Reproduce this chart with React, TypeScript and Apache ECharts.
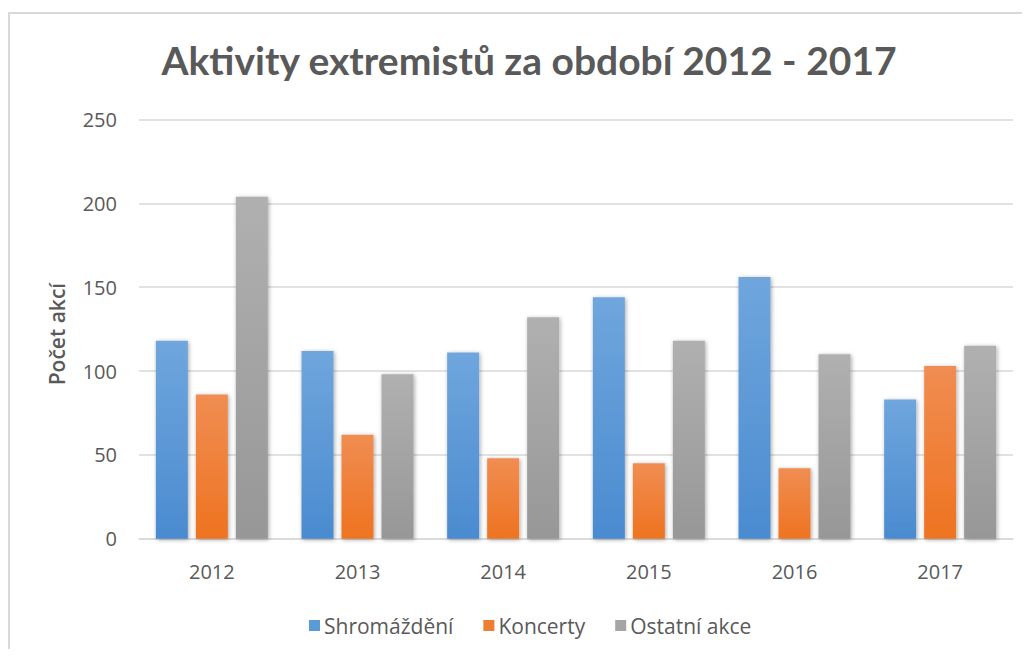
import React, { useEffect, useRef } from "react";
import * as echarts from "echarts";

const years = ["2012", "2013", "2014", "2015", "2016", "2017"];
const shromazdeni = [118, 112, 111, 144, 156, 83];
const koncerty = [86, 62, 48, 45, 42, 103];
const ostatni = [204, 98, 132, 118, 110, 115];
const yTicks = { min: 0, max: 250, interval: 50 };

const grad = (top: string, bottom: string) =>
  new echarts.graphic.LinearGradient(0, 0, 0, 1, [
    { offset: 0, color: top },
    { offset: 1, color: bottom },
  ]);

export default function App() {
  const ref = useRef<HTMLDivElement>(null);
  useEffect(() => {
    if (!ref.current) return;
    const chart = echarts.init(ref.current, undefined, { renderer: "svg" });
    const font = "'Open Sans', 'Noto Sans', sans-serif";
    const mkSeries = (name: string, data: number[], top: string, bottom: string) => ({
      name,
      type: "bar",
      data,
      barWidth: 32,
      barGap: "25%",
      itemStyle: {
        color: grad(top, bottom),
        shadowBlur: 4,
        shadowColor: "rgba(0,0,0,0.35)",
        shadowOffsetX: 1,
        shadowOffsetY: 1,
      },
    });
    chart.setOption({
      animation: false,
      title: {
        text: "Aktivity extremistů za období 2012 - 2017",
        left: 524,
        textAlign: "center",
        top: 35,
        textStyle: {
          fontFamily: "Lato, 'Open Sans', sans-serif",
          fontWeight: "bold",
          fontSize: 39,
          color: "#595959",
        },
      },
      legend: {
        top: 610,
        left: 304,
        itemWidth: 11,
        itemHeight: 11,
        itemGap: 30,
        icon: "rect",
        textStyle: { fontFamily: font, fontSize: 21, color: "#595959", padding: [0, 0, 0, -1] },
        data: [
          { name: "Shromáždění", itemStyle: { color: "#5b9bd5", shadowBlur: 0 } },
          { name: "Koncerty", itemStyle: { color: "#ed7d31", shadowBlur: 0 } },
          { name: "Ostatní akce", itemStyle: { color: "#a5a5a5", shadowBlur: 0 } },
        ],
      },
      grid: { left: 139, right: 17, top: 119.5, bottom: 118.3 },
      xAxis: {
        type: "category",
        data: years,
        axisLine: { lineStyle: { color: "#d9d9d9", width: 1.5 } },
        axisTick: { show: false },
        axisLabel: { fontFamily: font, fontSize: 20, color: "#595959", margin: 23 },
      },
      yAxis: {
        type: "value",
        ...yTicks,
        name: "Počet akcí",
        nameLocation: "middle",
        nameGap: 72,
        nameTextStyle: { fontFamily: font, fontSize: 21, color: "#595959", fontWeight: 600, padding: [0, 10, 0, 0] },
        axisLine: { show: false },
        axisTick: { show: false },
        axisLabel: { fontFamily: font, fontSize: 20, color: "#595959", margin: 22 },
        splitLine: { lineStyle: { color: "#d9d9d9", width: 1.5 } },
      },
      series: [
        mkSeries("Shromáždění", shromazdeni, "#6fa6dd", "#4a8bd0"),
        mkSeries("Koncerty", koncerty, "#f08d52", "#ee7320"),
        mkSeries("Ostatní akce", ostatni, "#b0b0b0", "#979797"),
      ],
    });
    return () => chart.dispose();
  }, []);
  return (
    <div style={{ position: "relative", width: 1030, height: 657, margin: -8, background: "#fff", overflow: "hidden" }}>
      <div ref={ref} style={{ position: "absolute", left: 0, top: 0, width: 1030, height: 657 }} />
      <div
        style={{
          position: "absolute",
          left: 8,
          top: 12,
          width: 1040,
          height: 700,
          border: "2px solid #d9d9d9",
          boxSizing: "border-box",
          pointerEvents: "none",
        }}
      />
    </div>
  );
}
